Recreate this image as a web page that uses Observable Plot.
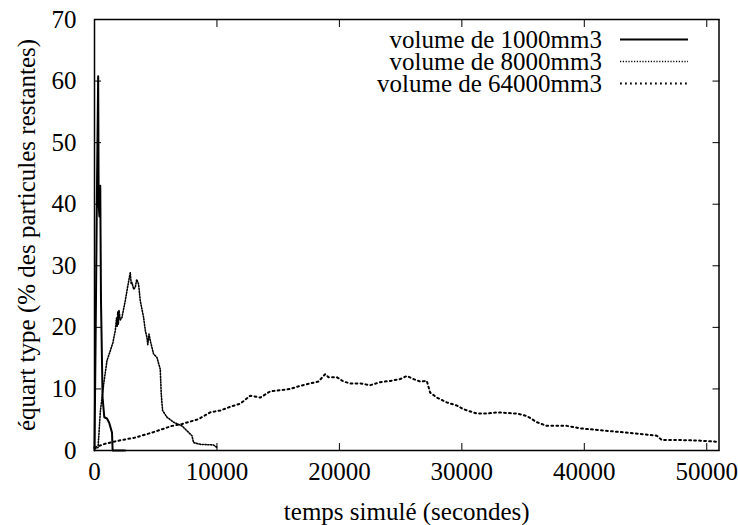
<!DOCTYPE html>
<html>
<head>
<meta charset="utf-8">
<script src="https://cdn.jsdelivr.net/npm/d3@7"></script>
<script src="https://cdn.jsdelivr.net/npm/@observablehq/plot@0.6"></script>
<style>
  html, body { margin: 0; padding: 0; background: #fff; }
  #wrap { position: relative; width: 738px; height: 525px; font-family: "Liberation Serif", serif; }
  #legend { position: absolute; left: 0; top: 0; width: 738px; height: 525px; pointer-events: none; }
</style>
</head>
<body>
<div id="wrap"><div id="chart"></div><svg id="legend" width="738" height="525"></svg></div>
<script>
// ---- data ----
const xTicks = [0, 10000, 20000, 30000, 40000, 50000];
const yTicks = [0, 10, 20, 30, 40, 50, 60, 70];
const seriesNames = ["volume de 1000mm3", "volume de 8000mm3", "volume de 64000mm3"];

const t1000 = [0, 100, 200, 300, 340, 400, 470, 530, 660, 800, 1020, 1200, 1430, 1480, 2500];
const v1000 = [0, 20, 42, 60.8, 40, 38, 43, 24.3, 8.6, 5.4, 5.2, 4.5, 2.9, 0, 0];

const t8000 = [0, 290, 480, 750, 1020, 1290, 1500, 1700, 1800, 1850, 1900, 1950, 2000, 2100, 2240, 2510, 2700, 2920, 3000, 3060, 3200, 3330, 3450, 3600, 3740, 4010, 4150, 4280, 4350, 4450, 4560, 4820, 5100, 5370, 5450, 5560, 5920, 6460, 7140, 7550, 7960, 8090, 8640, 9720, 10000];
const v8000 = [0.3, 0.5, 6.4, 10.8, 14.6, 16.2, 17.5, 19.5, 21.5, 20.2, 22.5, 20.5, 22.8, 21.2, 21.6, 24.3, 26.5, 28.9, 27.0, 27.3, 26.2, 26.5, 27.8, 27.0, 24.3, 21.6, 19.5, 18.4, 17.2, 18.9, 17.8, 15.7, 15.1, 13.2, 9.2, 6.5, 5.4, 4.6, 4.0, 3.2, 2.4, 1.3, 1.0, 0.9, 0.5];

const t64000 = [0, 880, 1970, 3330, 4690, 6330, 7140, 8500, 9450, 10270, 11090, 11900, 12720, 13540, 14350, 15170, 15990, 16800, 17620, 18290, 18840, 19110, 19800, 20340, 20880, 21700, 22510, 23330, 24150, 24960, 25510, 26050, 26600, 27140, 27410, 27960, 28780, 29590, 30140, 31220, 32040, 32860, 34490, 35310, 36120, 36940, 38570, 39660, 41290, 42920, 44550, 45920, 46330, 47820, 49450, 51000];
const v64000 = [0.5, 1.1, 1.6, 2.1, 2.9, 4.0, 4.3, 5.1, 6.2, 6.5, 7.1, 7.6, 8.9, 8.6, 9.6, 9.8, 10.0, 10.5, 10.9, 11.2, 12.4, 11.9, 11.9, 11.2, 10.9, 10.9, 10.6, 11.1, 11.3, 11.6, 12.1, 11.6, 11.2, 11.3, 9.4, 8.6, 7.8, 7.3, 6.7, 6.0, 6.0, 6.2, 6.0, 5.6, 4.6, 4.0, 4.0, 3.6, 3.3, 3.0, 2.7, 2.4, 1.7, 1.7, 1.6, 1.4];

// ---- styles ----
const FONT = "Liberation Serif";
const FS = 25;
const styles = [
  {stroke: "black", strokeWidth: 2, strokeDasharray: null},
  {stroke: "black", strokeWidth: 1.6, strokeDasharray: "1.2,1.6"},
  {stroke: "black", strokeWidth: 2, strokeDasharray: "1.8,3.2"}
];

const toRows = (ts, vs) => ts.map((t, i) => ({t, v: vs[i]}));
const s1 = toRows(t1000, v1000);
const s2 = toRows(t8000, v8000);
const s3 = toRows(t64000, v64000);

const chart = Plot.plot({
  width: 738,
  height: 525,
  marginLeft: 94,
  marginRight: 19.5,
  marginTop: 19,
  marginBottom: 75,
  style: {fontFamily: FONT, fontSize: FS + "px", color: "black", background: "white"},
  x: {domain: [0, 51000]},
  y: {domain: [0, 70]},
  marks: [
    Plot.line(s3, {x: "t", y: "v", ...styles[2]}),
    Plot.line(s2, {x: "t", y: "v", ...styles[1]}),
    Plot.line(s1, {x: "t", y: "v", ...styles[0]}),
    Plot.axisX(xTicks, {anchor: "bottom", tickSize: -7, tickPadding: 19, tickFormat: d => String(d), fontSize: FS,
      label: "temps simulé (secondes)", labelAnchor: "center", labelOffset: 69, labelArrow: "none"}),
    Plot.axisX(xTicks, {anchor: "top", tickSize: -7, tickFormat: () => "", label: null}),
    Plot.axisY(yTicks, {anchor: "left", tickSize: -7, tickPadding: 25, tickFormat: d => String(d), fontSize: FS,
      label: "équart type (% des particules restantes)", labelAnchor: "center", labelOffset: 77, labelArrow: "none"}),
    Plot.axisY(yTicks, {anchor: "right", tickSize: -7, tickFormat: () => "", label: null}),
    Plot.frame({stroke: "black", strokeWidth: 1.5})
  ]
});
d3.select(chart).attr("font-family", FONT).selectAll("text").attr("font-family", FONT);
document.getElementById("chart").appendChild(chart);

// ---- legend ----
const leg = d3.select("#legend");
seriesNames.forEach((name, i) => {
  const cy = 39.5 + i * 22;
  leg.append("text")
    .attr("x", 602).attr("y", cy)
    .attr("dy", "0.34em")
    .attr("text-anchor", "end")
    .attr("font-family", FONT)
    .attr("font-size", FS)
    .text(name);
  const ln = leg.append("line")
    .attr("x1", 620).attr("x2", 688).attr("y1", cy).attr("y2", cy)
    .attr("stroke", styles[i].stroke)
    .attr("stroke-width", styles[i].strokeWidth);
  if (styles[i].strokeDasharray) ln.attr("stroke-dasharray", styles[i].strokeDasharray);
});
</script>
</body>
</html>
